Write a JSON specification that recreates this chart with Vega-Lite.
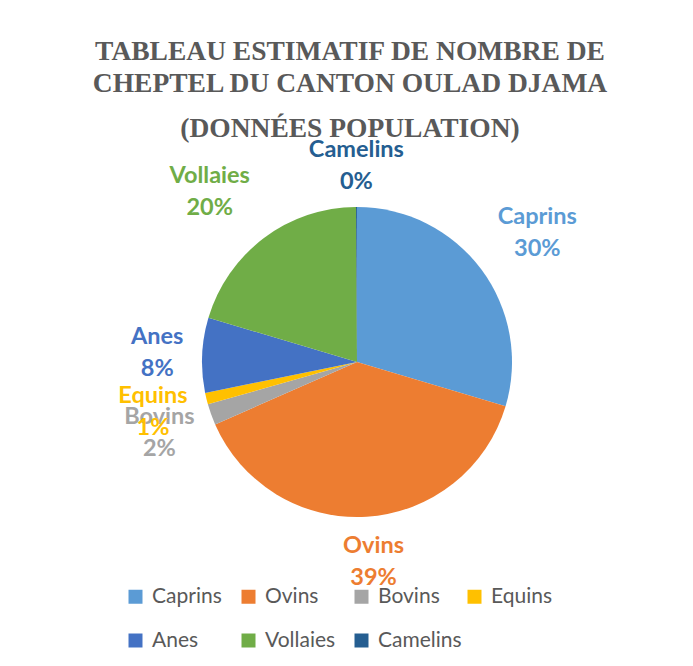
{
  "$schema": "https://vega.github.io/schema/vega-lite/v6.json",
  "autosize": "none",
  "width": 494,
  "height": 444,
  "padding": {"left": 110, "top": 140, "right": 89, "bottom": 82},
  "background": "white",
  "title": {
    "text": ["TABLEAU ESTIMATIF DE NOMBRE DE", "CHEPTEL DU CANTON OULAD DJAMA"],
    "subtitle": "(DONNÉES POPULATION)",
    "font": "Liberation Serif",
    "fontSize": 27.5,
    "fontWeight": "bold",
    "color": "#595959",
    "lineHeight": 32,
    "subtitleFont": "Liberation Serif",
    "subtitleFontSize": 27.5,
    "subtitleFontWeight": "bold",
    "subtitleColor": "#595959",
    "subtitlePadding": 17,
    "anchor": "middle",
    "frame": "group",
    "offset": -4,
    "dx": -7
  },
  "data": {
    "values": [
      {"categorie": "Caprins", "pourcentage": 29.6},
      {"categorie": "Ovins", "pourcentage": 38.8},
      {"categorie": "Bovins", "pourcentage": 2.2},
      {"categorie": "Equins", "pourcentage": 1.2},
      {"categorie": "Anes", "pourcentage": 7.8},
      {"categorie": "Vollaies", "pourcentage": 20.3},
      {"categorie": "Camelins", "pourcentage": 0.1}
    ]
  },
  "transform": [
    {"window": [{"op": "row_number", "as": "idx"}]},
    {"calculate": "format(datum.pourcentage, '.0f') + '%'", "as": "pct"}
  ],
  "encoding": {
    "theta": {"field": "pourcentage", "type": "quantitative", "stack": true},
    "order": {"field": "idx", "type": "quantitative"},
    "color": {
      "field": "categorie",
      "type": "nominal",
      "scale": {
        "domain": ["Caprins", "Ovins", "Bovins", "Equins", "Anes", "Vollaies", "Camelins"],
        "range": ["#5B9BD5", "#ED7D31", "#A5A5A5", "#FFC000", "#4472C4", "#70AD47", "#255E91"]
      },
      "legend": {
        "title": null,
        "orient": "none",
        "legendX": 15,
        "legendY": 446,
        "direction": "horizontal",
        "columns": 4,
        "gridAlign": "all",
        "columnPadding": 2,
        "rowPadding": 22,
        "symbolType": "square",
        "symbolSize": 196,
        "symbolStrokeWidth": 0,
        "labelFont": "Lato",
        "labelFontSize": 21,
        "labelColor": "#595959",
        "labelOffset": 6
      }
    }
  },
  "layer": [
    {
      "mark": {"type": "arc", "outerRadius": 155, "stroke": "white", "strokeWidth": 0}
    },
    {
      "mark": {"type": "text", "radius": {"expr": "datum.categorie == 'Camelins' ? 196 : datum.categorie == 'Caprins' ? 215 : datum.categorie == 'Vollaies' ? 212 : datum.categorie == 'Ovins' ? 200 : datum.categorie == 'Anes' ? 200 : 210"}, "dx": {"expr": "datum.categorie == 'Caprins' ? 8 : datum.categorie == 'Vollaies' ? -20 : datum.categorie == 'Ovins' ? 4 : 0"}, "dy": -16, "font": "Lato", "fontSize": 23.5, "fontWeight": "bold"},
      "encoding": {"text": {"field": "categorie", "type": "nominal"}}
    },
    {
      "mark": {"type": "text", "radius": {"expr": "datum.categorie == 'Camelins' ? 196 : datum.categorie == 'Caprins' ? 215 : datum.categorie == 'Vollaies' ? 212 : datum.categorie == 'Ovins' ? 200 : datum.categorie == 'Anes' ? 200 : 210"}, "dx": {"expr": "datum.categorie == 'Caprins' ? 8 : datum.categorie == 'Vollaies' ? -20 : datum.categorie == 'Ovins' ? 4 : 0"}, "dy": 16, "font": "Lato", "fontSize": 23.5, "fontWeight": "bold"},
      "encoding": {"text": {"field": "pct", "type": "nominal"}}
    }
  ],
  "config": {"view": {"stroke": null}}
}
